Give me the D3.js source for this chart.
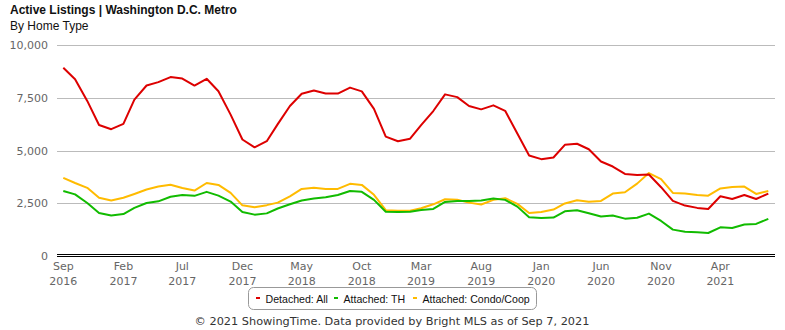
<!DOCTYPE html>
<html><head><meta charset="utf-8">
<script src="https://cdn.jsdelivr.net/npm/d3@7"></script>
<style>body{margin:0;background:#fff;} svg{display:block;}</style>
</head><body>
<svg id="chart" width="785" height="330"></svg>
<script>
const startMonth = "2016-09";
const detachedAll = [8920,8380,7350,6210,6010,6260,7410,8080,8240,8480,8410,8080,8400,7810,6700,5520,5150,5440,6250,7110,7690,7840,7700,7700,7980,7800,6970,5660,5440,5560,6200,6870,7660,7530,7110,6950,7140,6880,5810,4760,4590,4670,5270,5320,5060,4480,4240,3890,3840,3860,3260,2610,2390,2280,2230,2830,2700,2890,2700,2960];
const attachedTH = [3080,2920,2510,2040,1920,1990,2280,2510,2590,2810,2890,2850,3040,2860,2580,2090,1960,2020,2250,2450,2630,2720,2780,2890,3080,3040,2660,2100,2090,2100,2180,2230,2560,2610,2610,2630,2720,2660,2340,1840,1800,1820,2120,2170,2030,1870,1920,1770,1810,2010,1660,1250,1150,1120,1090,1360,1330,1490,1520,1760];
const attachedCondo = [3700,3460,3230,2760,2630,2760,2940,3150,3290,3380,3220,3100,3460,3370,2990,2400,2310,2410,2530,2830,3180,3230,3180,3180,3420,3370,2900,2170,2140,2140,2260,2450,2690,2670,2530,2440,2660,2740,2470,2040,2090,2200,2490,2640,2570,2610,2960,3020,3430,3930,3640,2990,2960,2890,2860,3200,3270,3290,2940,3080];
const seriesNames = ["Detached: All","Attached: TH","Attached: Condo/Coop"];
const seriesColors = ["#dd0000","#11bb00","#ffbb00"];
const yTicks = [0,2500,5000,7500,10000];
const xTickEvery = 5;

const svg = d3.select("#chart");
const parse = d3.timeParse("%Y-%m");
const t0 = parse(startMonth);
const dates = detachedAll.map((d,i)=>d3.timeMonth.offset(t0,i));

const x = d3.scaleTime().domain([dates[0], dates[dates.length-1]]).range([63.3, 768.3]);
const y = d3.scaleLinear().domain([0,10000]).range([256,45]);

// title
svg.append("text").attr("x",10).attr("y",14).attr("font-family","Liberation Sans, Arial, sans-serif")
  .attr("font-size",12).attr("font-weight","bold").attr("fill","#111").text("Active Listings | Washington D.C. Metro");
svg.append("text").attr("x",10).attr("y",30).attr("font-family","Liberation Sans, Arial, sans-serif")
  .attr("font-size",12).attr("fill","#111").text("By Home Type");

// grid
const gx0 = 57, gx1 = 775;
svg.append("g").selectAll("line").data(yTicks.filter(d=>d>0)).join("line")
  .attr("x1",gx0).attr("x2",gx1).attr("y1",d=>Math.round(y(d))+0.5).attr("y2",d=>Math.round(y(d))+0.5)
  .attr("stroke","#bbbbbb").attr("stroke-width",1);

// y labels
const yAxis = d3.axisLeft(y).tickValues(yTicks).tickSize(0).tickPadding(0).tickFormat(d3.format(","));
const ya = svg.append("g").attr("transform","translate(48,0)").call(yAxis);
ya.select(".domain").remove();
ya.selectAll("text").attr("font-family","DejaVu Sans, sans-serif").attr("font-size",11).attr("fill","#666");

// baseline double line
svg.append("line").attr("x1",gx0).attr("x2",gx1).attr("y1",254.5).attr("y2",254.5).attr("stroke","#000").attr("stroke-width",1);
svg.append("line").attr("x1",gx0).attr("x2",gx1).attr("y1",256.5).attr("y2",256.5).attr("stroke","#000").attr("stroke-width",1);

// x labels
const tickDates = dates.filter((d,i)=>i%xTickEvery===0);
const fm = d3.timeFormat("%b"), fy = d3.timeFormat("%Y");
const xAxis = d3.axisBottom(x).tickValues(tickDates).tickSize(0).tickFormat("");
const xa = svg.append("g").attr("transform","translate(0,257)").call(xAxis);
xa.select(".domain").remove();
const xl = svg.append("g").selectAll("text").data(tickDates).join("text")
  .attr("x",d=>x(d)).attr("text-anchor","middle")
  .attr("font-family","DejaVu Sans, sans-serif").attr("font-size",11).attr("fill","#666");
xl.append("tspan").attr("x",d=>x(d)).attr("y",270).text(d=>fm(d));
xl.append("tspan").attr("x",d=>x(d)).attr("y",285).text(d=>fy(d));

// lines
const all = [detachedAll, attachedTH, attachedCondo];
const line = d3.line().x((d,i)=>x(dates[i])).y(d=>y(d));
[2,1,0].forEach(k=>{
  svg.append("path").datum(all[k]).attr("d",line).attr("fill","none")
    .attr("stroke",seriesColors[k]).attr("stroke-width",2).attr("stroke-linejoin","round");
});

// legend
const lg = svg.append("g");
lg.append("rect").attr("x",248.5).attr("y",287.5).attr("width",288).attr("height",22).attr("rx",5)
  .attr("fill","#fff").attr("stroke","#999");
const legX = [256, 334, 413];
seriesNames.forEach((n,k)=>{
  lg.append("rect").attr("x",legX[k]).attr("y",297).attr("width",4).attr("height",2).attr("fill",seriesColors[k]);
  lg.append("text").attr("x",legX[k]+9.5).attr("y",302.5).attr("font-family","Liberation Sans, Arial, sans-serif")
    .attr("font-size",10.6).attr("fill","#111").text(n);
});

// footer
svg.append("text").attr("x",392).attr("y",325).attr("text-anchor","middle")
  .attr("font-family","DejaVu Sans, sans-serif").attr("font-size",11.3).attr("fill","#333")
  .text("© 2021 ShowingTime. Data provided by Bright MLS as of Sep 7, 2021");
</script>
</body></html>
